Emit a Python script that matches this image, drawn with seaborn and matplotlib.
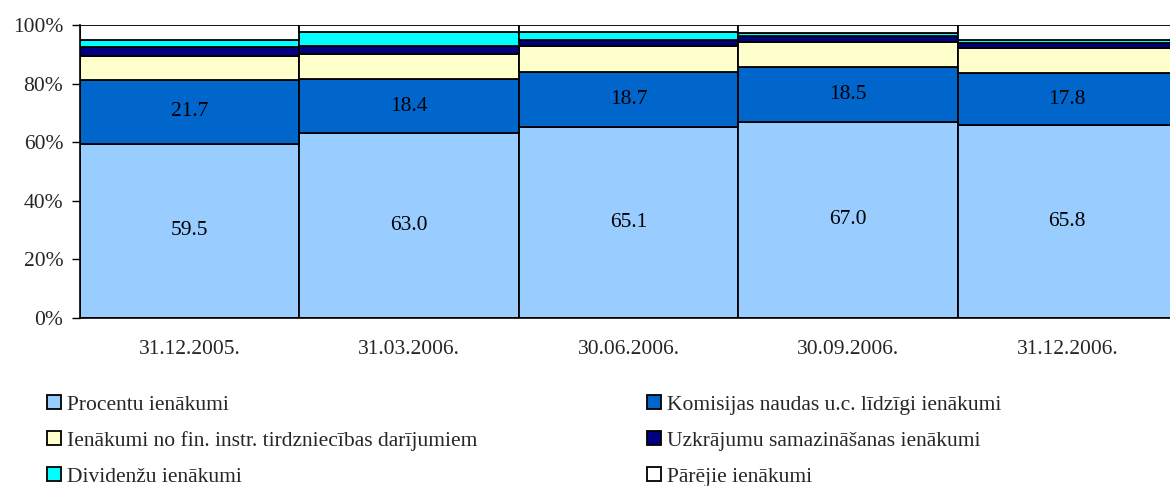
import numpy as np
import pandas as pd
import matplotlib
matplotlib.use("Agg")
import matplotlib.pyplot as plt
from matplotlib.patches import Patch
import seaborn as sns

dates = ["31.12.2005.", "31.03.2006.", "30.06.2006.", "30.09.2006.", "31.12.2006."]
procentu = [59.5, 63.0, 65.1, 67.0, 65.8]
komisijas = [21.7, 18.4, 18.7, 18.5, 17.8]
fin_instr = [8.2, 8.6, 9.0, 8.6, 8.6]
uzkrajumu = [3.0, 2.8, 2.1, 2.1, 1.7]
dividendes = [2.5, 4.7, 2.6, 1.0, 1.0]
parejie = [5.1, 2.5, 2.5, 2.8, 5.1]

series_names = ["Procentu ienākumi", "Komisijas naudas u.c. līdzīgi ienākumi",
                "Ienākumi no fin. instr. tirdzniecības darījumiem",
                "Uzkrājumu samazināšanas ienākumi", "Dividenžu ienākumi",
                "Pārējie ienākumi"]
series_vals = [procentu, komisijas, fin_instr, uzkrajumu, dividendes, parejie]
colors = ["#99CCFF", "#0066CC", "#FFFFCC", "#000080", "#00FFFF", "#FFFFFF"]

sns.set_theme(style="white")
plt.rcParams["font.family"] = ["Liberation Serif", "DejaVu Serif"]
FS = 15.5

fig = plt.figure(figsize=(11.7, 4.86), dpi=100)
ax = fig.add_axes([80 / 1170, 168 / 486, 1097 / 1170, 293 / 486])

bottom = np.zeros(len(dates))
for name, vals, col in zip(series_names, series_vals, colors):
    df = pd.DataFrame({"date": dates, "value": vals})
    sns.barplot(data=df, x="date", y="value", color=col, saturation=1,
                width=1.0, bottom=bottom.copy(), edgecolor="black",
                linewidth=1.3, ax=ax, errorbar=None)
    bottom += np.array(vals)

for cont in ax.containers[:2]:
    ax.bar_label(cont, fmt="%.1f", label_type="center", fontsize=FS,
                 color="black")

ax.set_xlim(-0.5, 4.5)
ax.set_ylim(0, 100)
ax.set_yticks([0, 20, 40, 60, 80, 100])
ax.set_yticklabels([f"{v}%" for v in [0, 20, 40, 60, 80, 100]], fontsize=FS)
ax.set_xticks(range(len(dates)))
ax.set_xticklabels(dates, fontsize=FS)
ax.set_xticks(np.arange(-0.5, 5.0, 1.0), minor=True)
ax.tick_params(axis="x", which="major", length=0, pad=16)
ax.tick_params(axis="x", which="minor", length=6, width=1, color="black", direction="out")
ax.tick_params(axis="y", which="major", length=6, width=1, color="black", direction="out", pad=6, left=True)
ax.set_xlabel("")
ax.set_ylabel("")
for s in ["top", "right"]:
    ax.spines[s].set_visible(False)
for s in ["left", "bottom"]:
    ax.spines[s].set_color("black")
    ax.spines[s].set_linewidth(1.2)

handles = [Patch(facecolor=c, edgecolor="black", linewidth=1.3) for c in colors]
left_idx = [0, 2, 4]
right_idx = [1, 3, 5]
common = dict(frameon=False, fontsize=FS, handlelength=0.65, handleheight=0.65,
              handletextpad=0.28, labelspacing=0.75, borderpad=0, borderaxespad=0,
              loc="upper left")
fig.legend([handles[i] for i in left_idx], [series_names[i] for i in left_idx],
           bbox_to_anchor=(47 / 1170, 1 - 395 / 486), **common)
fig.legend([handles[i] for i in right_idx], [series_names[i] for i in right_idx],
           bbox_to_anchor=(647 / 1170, 1 - 395 / 486), **common)

fig.savefig("out.png", dpi=100)
